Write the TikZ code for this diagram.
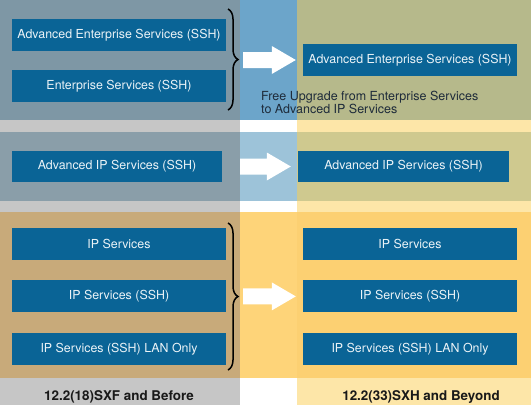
\documentclass[tikz,border=0pt]{standalone}
\usepackage{fontspec}
\setmainfont{TeX Gyre Heros}
\usetikzlibrary{positioning,calc,decorations.pathreplacing}
\definecolor{azulcaja}{HTML}{0A6496}
\definecolor{gris}{HTML}{C6C6C6}
\definecolor{crema}{HTML}{FDE6A8}
\definecolor{bal}{HTML}{7E97A5}\definecolor{bam}{HTML}{6CA5CA}\definecolor{bar}{HTML}{B6B98B}
\definecolor{bbl}{HTML}{8A9EA9}\definecolor{bbm}{HTML}{9DC3D9}\definecolor{bbr}{HTML}{CFC98F}
\definecolor{bcl}{HTML}{C8AA7A}\definecolor{bcm}{HTML}{FED479}\definecolor{bcr}{HTML}{FCD072}
\definecolor{textonota}{HTML}{1E2B3A}

\begin{document}
\begin{tikzpicture}[x=1pt,y=-1pt,
  caja/.style={fill=azulcaja,text=white!92!azulcaja,minimum height=32pt,minimum width=214pt,inner sep=0pt,font=\fontsize{12.4}{14}\selectfont},
  llave/.style={decorate,decoration={brace,amplitude=10pt},line width=1.5pt},
  flechota/.style={to path={let \p1=(\tikztostart),\p2=(\tikztotarget) in
    (\x1,\y1+8pt)--(\x2-24pt,\y1+8pt)--(\x2-24pt,\y1+14pt)--(\x2,\y1)--(\x2-24pt,\y1-14pt)--(\x2-24pt,\y1-8pt)--(\x1,\y1-8pt)--cycle}},
  etiqueta/.style={font=\fontsize{13.4}{15}\selectfont\bfseries,text=black!90,inner sep=0pt,anchor=base}]
  \useasboundingbox (0,0) rectangle (531,405);
  % columnas + bandas
  \fill[gris] (0,0) rectangle (240,405);
  \fill[white] (240,0) rectangle (297,405);
  \fill[crema] (297,0) rectangle (531,405);
  \foreach \ya/\yb/\cl/\cm/\cr in {0/120/bal/bam/bar,132/201/bbl/bbm/bbr,212/378/bcl/bcm/bcr}
    {\fill[\cl] (0,\ya) rectangle (240,\yb);
     \fill[\cm] (240,\ya) rectangle (297,\yb);
     \fill[\cr] (297,\ya) rectangle (531,\yb);}
  % enterprise
  \node[caja] (aes) at (119,35) {Advanced Enterprise Services (SSH)};
  \node[caja,below=19pt of aes] (es) {Enterprise Services (SSH)};
  \node[caja] (aesn) at (410,60) {Advanced Enterprise Services (SSH)};
  \draw[llave] (228,9) -- (228,110);
  \fill[white] (243,0 |- aesn.west) to[flechota] ([xshift=-7pt]aesn.west);
  \node[font=\fontsize{12.5}{12}\selectfont,text=textonota,align=left,anchor=north west,inner sep=0pt] (libre) at (261,91)
    {Free Upgrade from Enterprise Services\\to Advanced IP Services};
  % advanced ip
  \node[caja,minimum width=210pt,minimum height=31pt] (aip) at (117,166.5) {Advanced IP Services (SSH)};
  \node[caja,minimum width=211pt,minimum height=31pt] (aipn) at (403.5,166.5) {Advanced IP Services (SSH)};
  \fill[white] (240,0 |- aipn.west) to[flechota] ([xshift=-7pt]aipn.west);
  % ip services
  \node[caja] (ip) at (119,244) {IP Services};
  \node[caja,below=20pt of ip] (ipssh) {IP Services (SSH)};
  \node[caja,below=20pt of ipssh] (iplan) {IP Services (SSH) LAN Only};
  \node[caja] (ipn) at (410,244) {IP Services};
  \node[caja,below=20pt of ipn] (ipsshn) {IP Services (SSH)};
  \node[caja,below=20pt of ipsshn] (iplann) {IP Services (SSH) LAN Only};
  \draw[llave] (228,223) -- (228,370);
  \fill[white] (243,0 |- ipsshn.west) to[flechota] ([xshift=-7pt]ipsshn.west);
  % versiones
  \node[etiqueta] (antes) at (119,400) {12.2(18)SXF and Before};
  \node[etiqueta] (despues) at (421,400) {12.2(33)SXH and Beyond};
\end{tikzpicture}
\end{document}
